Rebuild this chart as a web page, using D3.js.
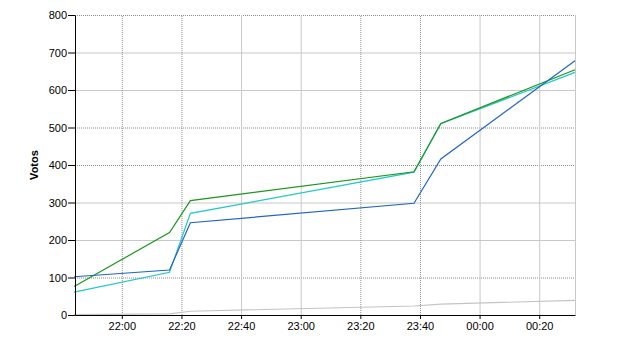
<!DOCTYPE html>
<html>
<head>
<meta charset="utf-8">
<script src="https://cdn.jsdelivr.net/npm/d3@7"></script>
<style>
  body { margin: 0; background: #fff; }
  svg { display: block; font-family: Arial, 'Liberation Sans', sans-serif; }
</style>
</head>
<body>
<svg width="640" height="350"></svg>
<script>
// horas de cada lectura (las de despues de medianoche son del dia siguiente)
const horas = ['21:44', '22:16', '22:23', '23:38', '23:47', '00:32']
// votos por serie
const votosAzul = [102, 120, 246, 298, 416, 678]
const votosCian = [61, 114, 271, 381, 510, 647]
const votosVerde = [76, 220, 305, 382, 511, 654]
const votosGris = [1, 3, 10, 24, 29, 39]
// extremos del eje x y del eje y
const extremoX = ['21:44:18', '00:32:00']
const extremoY = [0, 800]

const parseHora = d3.timeParse('%H:%M:%S')
function fecha (h) {
  if (h.length === 5) h = h + ':00'
  let t = parseHora(h)
  if (t.getHours() < 12) t = d3.timeDay.offset(t, 1)
  return t
}

const series = [
  { nombre: 'gris', valores: votosGris, color: '#c4c4c4' },
  { nombre: 'cian', valores: votosCian, color: '#22c8c8' },
  { nombre: 'verde', valores: votosVerde, color: '#1e961e' },
  { nombre: 'azul', valores: votosAzul, color: '#2066c0' }
]

const svg = d3.select('svg')
const margin = { top: 15, left: 75 }
const width = 500
const height = 300

const g = svg.append('g').attr('transform', 'translate(' + margin.left + ',' + margin.top + ')')

const x = d3.scaleTime()
  .domain(extremoX.map(fecha))
  .range([0, width])

const y = d3.scaleLinear()
  .domain(extremoY)
  .range([height, 0])

// rejilla: unas lineas punteadas y otras grises continuas
function estiloRejilla (sel, punteada) {
  sel.selectAll('.tick line')
    .attr('stroke', function (d, i) { return punteada(i) ? '#8c8c8c' : '#c8c8c8' })
    .attr('stroke-dasharray', function (d, i) { return punteada(i) ? '1,1' : null })
}

const gridY = g.append('g')
  .call(d3.axisLeft(y).ticks(8).tickSize(-width).tickFormat(''))
gridY.select('.domain').remove()
gridY.selectAll('.tick').filter(function (d) { return d === 0 }).remove()
estiloRejilla(gridY, function (i) { return Math.floor((7 - i + 1) / 2) % 2 === 0 })

const gridX = g.append('g')
  .attr('transform', 'translate(0,' + height + ')')
  .call(d3.axisBottom(x).ticks(d3.timeMinute.every(20)).tickSize(-height).tickFormat(''))
gridX.select('.domain').remove()
estiloRejilla(gridX, function (i) { return Math.floor(i / 2) % 2 === 0 })

// borde derecho
g.append('line')
  .attr('x1', width + 0.5).attr('x2', width + 0.5)
  .attr('y1', 0).attr('y2', height)
  .attr('stroke', '#c8c8c8')

const linea = d3.line()
  .x(function (d, i) { return x(fecha(horas[i])) })
  .y(function (d) { return y(d) })

g.selectAll('.serie')
  .data(series)
  .enter().append('path')
    .attr('class', 'serie')
    .attr('fill', 'none')
    .attr('stroke', function (d) { return d.color })
    .attr('stroke-width', 1.2)
    .attr('d', function (d) { return linea(d.valores) })

const ejeX = g.append('g')
  .attr('transform', 'translate(0,' + height + ')')
  .call(d3.axisBottom(x).ticks(d3.timeMinute.every(20)).tickFormat(d3.timeFormat('%H:%M')).tickSize(4).tickSizeOuter(0))

const ejeY = g.append('g')
  .call(d3.axisLeft(y).ticks(8).tickSize(7).tickPadding(1).tickSizeOuter(0))

;[ejeX, ejeY].forEach(function (e) {
  e.selectAll('text').attr('font-size', 11).attr('fill', '#000').attr('font-family', 'Arial, Liberation Sans, sans-serif')
  e.selectAll('line, path').attr('stroke', '#000')
})

svg.append('text')
  .attr('transform', 'translate(38,' + (margin.top + height / 2) + ') rotate(-90)')
  .attr('text-anchor', 'middle')
  .attr('font-size', 11)
  .attr('font-weight', 'bold')
  .text('Votos')
</script>
</body>
</html>
